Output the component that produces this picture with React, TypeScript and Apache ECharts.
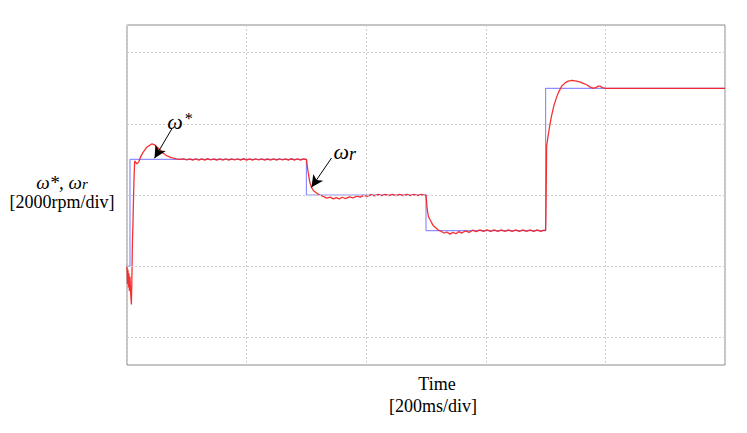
import React, { useEffect, useRef } from "react";
import * as echarts from "echarts";

// time in ms, speed in divisions (2000 rpm/div)
const refData: [number, number][] = [
  [0, -1], [5, -1], [5, 0.5], [300, 0.5], [300, 0], [500, 0], [500, -0.5],
  [700, -0.5], [700, 1.5], [1000, 1.5],
];

const actData: [number, number][] = [
  [0, -1.0], [0.8, -1.25], [1.6, -1.05], [2.4, -1.3], [3.2, -1.1], [4.0, -1.35],
  [5.0, -1.15], [6.2, -1.4], [7.4, -1.54], [8.3, -1.1], [9.2, -0.6], [10, -0.4],
  [11, 0.0], [12, 0.3], [12.9, 0.48], [14.5, 0.46], [16.7, 0.437], [20, 0.47],
  [23, 0.54], [26.8, 0.6], [33, 0.67], [38, 0.7], [41.8, 0.718], [47, 0.7],
  [54.7, 0.64], [60, 0.59], [65.9, 0.554], [74, 0.525], [82.6, 0.507], [90, 0.5],
  [95, 0.51], [100, 0.492], [105, 0.509], [110, 0.49], [115, 0.51], [120, 0.491],
  [125, 0.508], [130, 0.49], [135, 0.511], [140, 0.492], [145, 0.509], [150, 0.49],
  [155, 0.51], [160, 0.491], [165, 0.51], [170, 0.49], [175, 0.509], [180, 0.492],
  [185, 0.51], [190, 0.49], [195, 0.511], [200, 0.491], [205, 0.509], [210, 0.49],
  [215, 0.51], [220, 0.492], [225, 0.51], [230, 0.49], [235, 0.509], [240, 0.491],
  [245, 0.51], [250, 0.49], [255, 0.51], [260, 0.492], [265, 0.509], [270, 0.49],
  [275, 0.511], [280, 0.491], [285, 0.51], [290, 0.49], [295, 0.509],
  [300, 0.5], [302.9, 0.32], [305.7, 0.18], [308.5, 0.108], [312, 0.06],
  [316.9, 0.028], [322, 0.0], [328, -0.019], [334, -0.045], [340, -0.03],
  [345, -0.055], [350, -0.036], [355, -0.055], [360, -0.032], [365, -0.05],
  [372, -0.025], [378, -0.042], [384, -0.015], [390, -0.03], [396, -0.005],
  [402, -0.02], [408, 0.005], [414, -0.012], [420, 0.008], [426, -0.01],
  [432, 0.01], [438, -0.01], [444, 0.01], [450, -0.01], [456, 0.01], [462, -0.009],
  [468, 0.01], [474, -0.01], [480, 0.01], [486, -0.01], [492, 0.01], [497, -0.005],
  [500, 0], [502, -0.2], [504, -0.3], [506.4, -0.34], [512, -0.43],
  [520, -0.49], [525, -0.51], [530, -0.535], [535, -0.52], [540, -0.55], [545, -0.525],
  [550, -0.545], [555, -0.515], [560, -0.535], [566, -0.505], [572, -0.525],
  [578, -0.495], [584, -0.515], [590, -0.49], [596, -0.51], [602, -0.49],
  [608, -0.51], [614, -0.49], [620, -0.51], [626, -0.49], [632, -0.51],
  [638, -0.49], [644, -0.51], [650, -0.49], [656, -0.51], [662, -0.49],
  [668, -0.51], [674, -0.49], [680, -0.51], [686, -0.49], [692, -0.51], [697, -0.495],
  [700, -0.5], [700.5, -0.3], [701.2, 0.2],
  [701.7, 0.69], [704.3, 0.835], [707, 0.98], [710, 1.117], [714, 1.26],
  [718.4, 1.376], [722, 1.45], [726.8, 1.53], [733, 1.58], [738, 1.6],
  [743.5, 1.61], [750, 1.605], [757, 1.59], [763, 1.57], [768.6, 1.55],
  [774, 1.52], [779, 1.503], [784, 1.51], [788, 1.53], [791, 1.53], [795, 1.51],
  [801, 1.5], [1000, 1.5],
];

const yGridValues = [-2, -1, 0, 1, 2];

// annotation arrows: [startTime, startVal, endTime, endVal]
const arrowStar = [75, 0.93, 46, 0.517];
const arrowR = [342, 0.52, 308.5, 0.108];
const labelStar: [number, number] = [88, 1.04];
const labelR: [number, number] = [364, 0.61];

const serif = '"Liberation Serif", "Times New Roman", serif';

export default function App() {
  const ref = useRef<HTMLDivElement>(null);
  useEffect(() => {
    if (!ref.current) return;
    const chart = echarts.init(ref.current, undefined, { renderer: "svg" });
    chart.setOption({
      animation: false,
      backgroundColor: "#ffffff",
      grid: {
        left: 127,
        top: 25,
        right: 22,
        bottom: 68,
        show: true,
        borderColor: "#8a8a8a",
        borderWidth: 1,
        backgroundColor: "transparent",
      },
      xAxis: {
        type: "value",
        min: 0,
        max: 1000,
        interval: 200,
        axisLine: { show: false },
        axisTick: { show: false },
        axisLabel: { show: false },
        splitLine: { show: true, lineStyle: { color: "#cfcfcf", type: [2, 2], width: 1 } },
      },
      yAxis: {
        type: "value",
        min: -2.39,
        max: 2.39,
        axisLine: { show: false },
        axisTick: { show: false },
        axisLabel: { show: false },
        splitLine: { show: false },
      },
      graphic: [
        {
          type: "text",
          x: 62,
          y: 182,
          style: {
            text: "{w|ω*, ω}{r|r}",
            fill: "#000",
            align: "center",
            verticalAlign: "middle",
            rich: {
              w: { fontFamily: serif, fontStyle: "italic", fontSize: 19, fill: "#000" },
              r: { fontFamily: serif, fontStyle: "italic", fontSize: 15, fill: "#000", padding: [4, 0, 0, 0] },
            },
          },
        },
        {
          type: "text",
          x: 62,
          y: 202,
          style: {
            text: "[2000rpm/div]",
            font: `18px ${serif}`,
            fill: "#000",
            align: "center",
            verticalAlign: "middle",
          },
        },
        {
          type: "text",
          x: 437,
          y: 384,
          style: {
            text: "Time",
            font: `18px ${serif}`,
            fill: "#000",
            align: "center",
            verticalAlign: "middle",
          },
        },
        {
          type: "text",
          x: 433,
          y: 406,
          style: {
            text: "[200ms/div]",
            font: `18px ${serif}`,
            fill: "#000",
            align: "center",
            verticalAlign: "middle",
          },
        },
      ],
      series: [
        {
          type: "line",
          name: "grid",
          data: [],
          silent: true,
          markLine: {
            silent: true,
            symbol: ["none", "none"],
            label: { show: false },
            lineStyle: { color: "#cfcfcf", type: [2, 2], width: 1 },
            data: yGridValues.map((v) => ({ yAxis: v })),
          },
        },
        {
          type: "line",
          name: "ω*",
          data: refData,
          showSymbol: false,
          symbol: "none",
          lineStyle: { color: "#8f8fff", width: 1.2 },
          z: 2,
        },
        {
          type: "line",
          name: "ωr",
          data: actData,
          showSymbol: false,
          symbol: "none",
          lineStyle: { color: "#f41c1c", width: 1.3, opacity: 0.9 },
          z: 3,
          markLine: {
            silent: true,
            symbol: ["none", "arrow"],
            symbolSize: [9, 12],
            label: { show: false },
            lineStyle: { color: "#000", type: "solid", width: 1 },
            data: [
              [
                { coord: [arrowStar[0], arrowStar[1]] },
                { coord: [arrowStar[2], arrowStar[3]] },
              ],
              [
                { coord: [arrowR[0], arrowR[1]] },
                { coord: [arrowR[2], arrowR[3]] },
              ],
            ],
          },
          markPoint: {
            silent: true,
            symbol: "circle",
            symbolSize: 1,
            itemStyle: { color: "rgba(0,0,0,0)" },
            label: {
              show: true,
              position: "inside",
              color: "#000",
              fontFamily: serif,
              fontStyle: "italic",
              fontSize: 22,
            },
            data: [
              {
                coord: labelStar,
                label: {
                  formatter: "{w|ω}{s|*}",
                  rich: {
                    w: { fontFamily: serif, fontStyle: "italic", fontSize: 22, color: "#000" },
                    s: { fontFamily: serif, fontSize: 16, color: "#000", verticalAlign: "top", padding: [0, 0, 6, 1] },
                  },
                },
              },
              {
                coord: labelR,
                label: {
                  formatter: "{w|ω}{r|r}",
                  rich: {
                    w: { fontFamily: serif, fontStyle: "italic", fontSize: 22, color: "#000" },
                    r: { fontFamily: serif, fontStyle: "italic", fontSize: 18, color: "#000", padding: [4, 0, 0, 0] },
                  },
                },
              },
            ],
          },
        },
      ],
    });
    return () => chart.dispose();
  }, []);
  return (
    <div
      ref={ref}
      style={{ position: "fixed", left: 0, top: 0, width: 747, height: 433, background: "#fff" }}
    />
  );
}
